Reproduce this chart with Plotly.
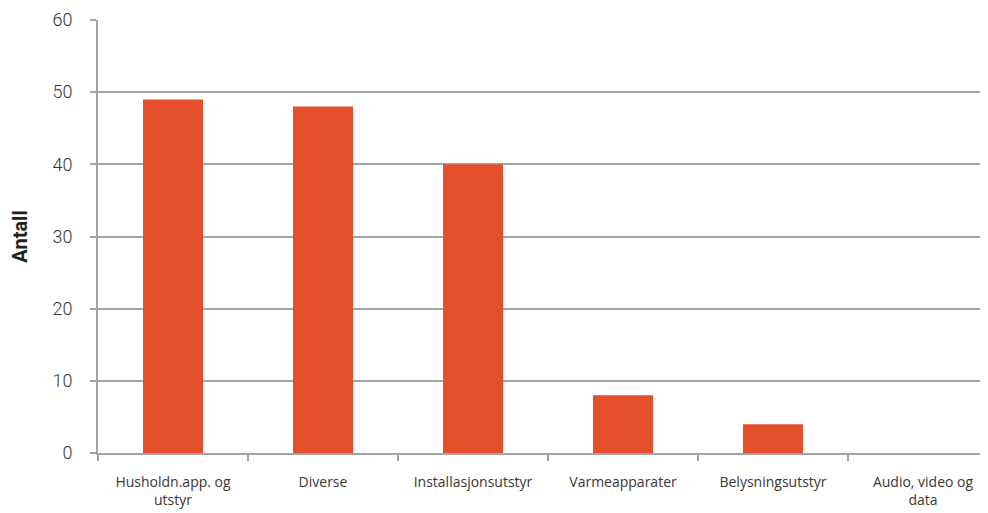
import plotly.graph_objects as go

categories = [
    "Husholdn.app. og<br>utstyr",
    "Diverse",
    "Installasjonsutstyr",
    "Varmeapparater",
    "Belysningsutstyr",
    "Audio, video og<br>data",
]
antall = [49, 48, 40, 8, 4, 0]

bar_color = "#e34f2a"
grid_color = "#a3a3a3"
text_color = "#3b3631"

fig = go.Figure(
    go.Bar(
        x=categories,
        y=antall,
        marker=dict(color=bar_color, line=dict(width=0)),
        width=0.4,
    )
)

# the page body adds an 8px margin, so the figure is shifted by 8px
fig.update_layout(
    width=980,
    height=505,
    margin=dict(l=90, r=0, t=12, b=60, autoexpand=False),
    plot_bgcolor="white",
    paper_bgcolor="white",
    font=dict(family="Roboto, DejaVu Sans, sans-serif", color=text_color),
    showlegend=False,
)

fig.update_xaxes(
    range=[-0.5, 5.5 - 10 / 150],
    showline=True,
    linecolor=grid_color,
    linewidth=2,
    ticks="outside",
    tickson="boundaries",
    ticklen=6,
    tickwidth=2,
    tickcolor=grid_color,
    ticklabelstandoff=15,
    tickfont=dict(family="Open Sans, sans-serif", size=14, color=text_color),
    showgrid=False,
)

fig.update_yaxes(
    range=[0, 60],
    dtick=10,
    showline=True,
    linecolor=grid_color,
    linewidth=2,
    showgrid=True,
    gridcolor=grid_color,
    gridwidth=2,
    zeroline=False,
    ticks="outside",
    ticklen=6,
    tickwidth=2,
    tickcolor=grid_color,
    ticklabelstandoff=14,
    tickfont=dict(family="Roboto Light, Roboto, sans-serif", size=18, color=text_color),
    title=dict(
        text="<b>Antall</b>",
        font=dict(size=20, color="#231f1c"),
        standoff=34,
    ),
)

fig.write_html("out.html")
